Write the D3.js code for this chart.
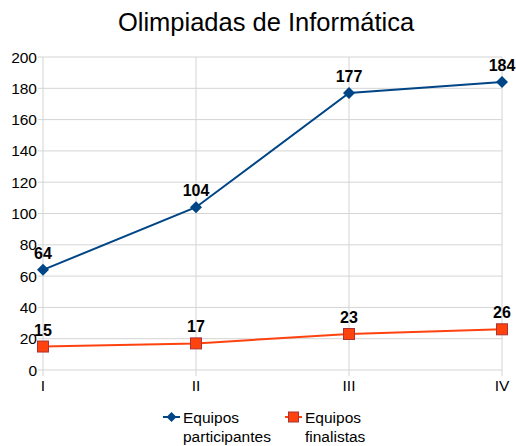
<!DOCTYPE html>
<html lang="es">
<head>
<meta charset="UTF-8">
<script src="https://d3js.org/d3.v7.min.js"></script>
<title>Olimpiadas</title>
<style>
  body { margin: 0; background: #fff; }
  text { font-family: "Liberation Sans", Arial, sans-serif; }
</style>
</head>
<body>
<script>
// datos
const categorias = ['I', 'II', 'III', 'IV'];
const participantes = [64, 104, 177, 184];
const finalistas = [15, 17, 23, 26];
const yTicks = [0, 20, 40, 60, 80, 100, 120, 140, 160, 180, 200];

const width = 516, height = 446;
const svg = d3.select('body').append('svg')
    .attr('width', width).attr('height', height);

const x = d3.scalePoint().domain(categorias).range([43, 502]);
const y = d3.scaleLinear().domain([0, 200]).range([370, 57]);

// titulo
svg.append('text')
    .attr('x', 266).attr('y', 31)
    .attr('text-anchor', 'middle')
    .attr('font-size', 25.5)
    .text('Olimpiadas de Informática');

// rejilla
svg.append('g').selectAll('line').data(yTicks).enter().append('line')
    .attr('x1', 38).attr('x2', 502)
    .attr('y1', d => y(d)).attr('y2', d => y(d))
    .attr('stroke', '#d4d4d4');
svg.append('g').selectAll('line').data(categorias).enter().append('line')
    .attr('x1', d => x(d)).attr('x2', d => x(d))
    .attr('y1', 57).attr('y2', 376)
    .attr('stroke', '#d4d4d4');

// etiquetas eje y
svg.append('g').selectAll('text').data(yTicks).enter().append('text')
    .attr('x', 37).attr('y', d => y(d) + 5.5)
    .attr('text-anchor', 'end')
    .attr('font-size', 15.5)
    .text(d => d);

// etiquetas eje x
svg.append('g').selectAll('text').data(categorias).enter().append('text')
    .attr('x', d => x(d)).attr('y', 391)
    .attr('text-anchor', 'middle')
    .attr('font-size', 15.5)
    .text(d => d);

const line = d3.line().x((d, i) => x(categorias[i])).y(d => y(d));

const azul = '#004586', naranja = '#ff420e';

// serie participantes
svg.append('path').datum(participantes)
    .attr('d', line).attr('fill', 'none')
    .attr('stroke', azul).attr('stroke-width', 2);
svg.append('g').selectAll('path').data(participantes).enter().append('path')
    .attr('d', d3.symbol().type(d3.symbolSquare).size(72))
    .attr('transform', (d, i) => `translate(${x(categorias[i])},${y(d)}) rotate(45)`)
    .attr('fill', azul);
svg.append('g').selectAll('text').data(participantes).enter().append('text')
    .attr('x', (d, i) => x(categorias[i])).attr('y', d => y(d) - 11)
    .attr('text-anchor', 'middle')
    .attr('font-size', 16).attr('font-weight', 'bold')
    .text(d => d);

// serie finalistas
svg.append('path').datum(finalistas)
    .attr('d', line).attr('fill', 'none')
    .attr('stroke', naranja).attr('stroke-width', 2);
svg.append('g').selectAll('rect').data(finalistas).enter().append('rect')
    .attr('x', (d, i) => x(categorias[i]) - 5.5).attr('y', d => y(d) - 5.5)
    .attr('width', 11).attr('height', 11)
    .attr('fill', naranja).attr('stroke', '#a33');
svg.append('g').selectAll('text').data(finalistas).enter().append('text')
    .attr('x', (d, i) => x(categorias[i])).attr('y', d => y(d) - 11)
    .attr('text-anchor', 'middle')
    .attr('font-size', 16).attr('font-weight', 'bold')
    .text(d => d);

// leyenda
const leyenda = [
  { nombre: ['Equipos', 'participantes'], color: azul, x: 163, tipo: 'diamante' },
  { nombre: ['Equipos', 'finalistas'], color: naranja, x: 285, tipo: 'cuadrado' }
];
const lg = svg.append('g').selectAll('g').data(leyenda).enter().append('g')
    .attr('transform', d => `translate(${d.x},417)`);
lg.append('line').attr('x1', 0).attr('x2', 17)
    .attr('stroke', d => d.color).attr('stroke-width', 2);
lg.each(function (d) {
  const g = d3.select(this);
  if (d.tipo === 'diamante') {
    g.append('path').attr('d', d3.symbol().type(d3.symbolSquare).size(50))
      .attr('transform', 'translate(8.5,0) rotate(45)').attr('fill', d.color);
  } else {
    g.append('rect').attr('x', 3.5).attr('y', -5).attr('width', 10).attr('height', 10)
      .attr('fill', d.color).attr('stroke', '#a33');
  }
});
lg.append('text').attr('x', 20).attr('y', 5.5).attr('font-size', 15.5)
    .text(d => d.nombre[0]);
lg.append('text').attr('x', 20).attr('y', 25).attr('font-size', 15.5)
    .text(d => d.nombre[1]);
</script>
</body>
</html>
